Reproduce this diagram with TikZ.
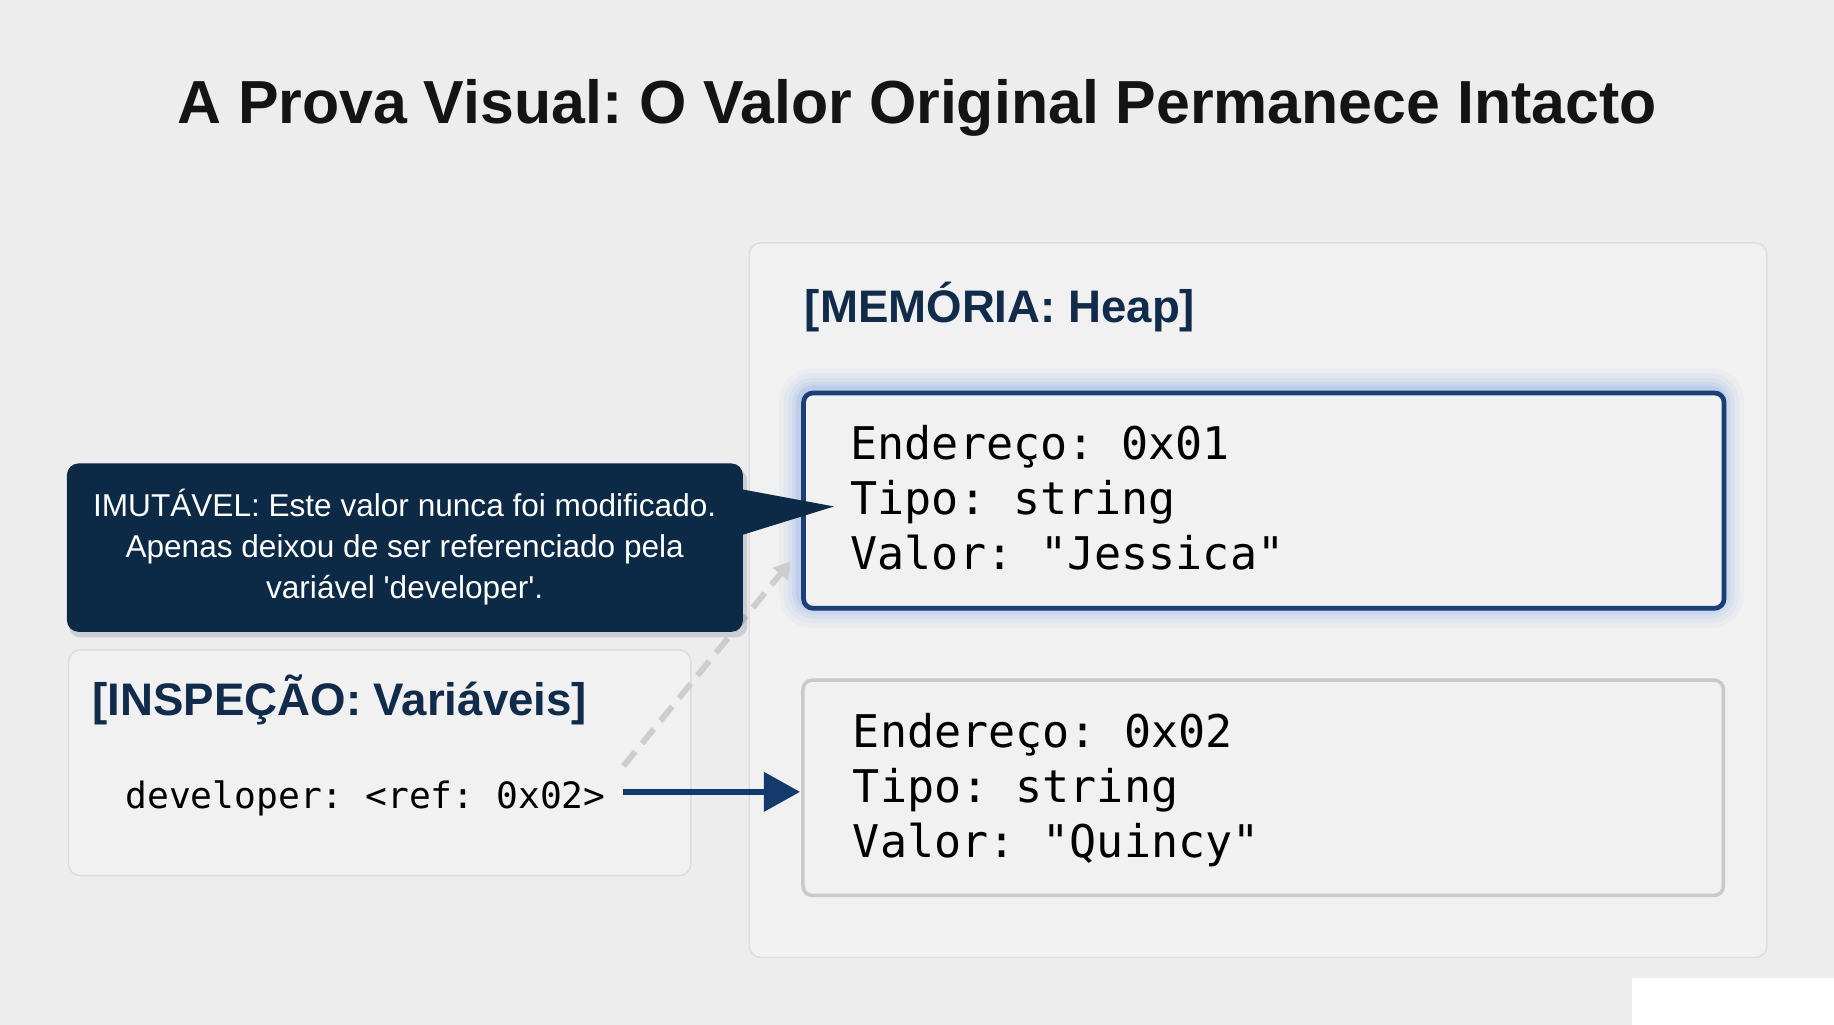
\documentclass[tikz,border=0pt]{standalone}
\usepackage{fontspec}
\setmainfont{Liberation Sans}
\newfontfamily\monof{DejaVu Sans Mono}
\usetikzlibrary{arrows.meta}
\definecolor{bgc}{HTML}{EDEDED}
\definecolor{panelf}{HTML}{F1F1F1}
\definecolor{panelb}{HTML}{DCDCDC}
\definecolor{titlec}{HTML}{141414}
\definecolor{navytxt}{HTML}{112B4A}
\definecolor{callc}{HTML}{0C2946}
\definecolor{box1b}{HTML}{1B3F74}
\definecolor{glowc}{HTML}{6F98E4}
\definecolor{box2b}{HTML}{C9C9C9}
\definecolor{arrc}{HTML}{143A6B}
\definecolor{dashc}{HTML}{CDCDCD}
\begin{document}
\frenchspacing
\begin{tikzpicture}[x=1pt,y=-1pt,
  panel/.style={draw=panelb, fill=panelf, rounded corners=10pt, line width=1.2pt, inner sep=0pt, anchor=north west},
  heapbox/.style={rounded corners=8pt, inner sep=0pt, anchor=north west, minimum width=787pt, minimum height=184pt},
  seclabel/.style={font=\bfseries\fontsize{39}{46}\selectfont, text=navytxt, anchor=base west, inner sep=0pt},
  codeline/.style={font=\monof\frenchspacing\fontsize{38.5}{47}\selectfont, text=black, anchor=base west, inner sep=0pt},
  navyarr/.style={draw=arrc, line width=5pt, -{Triangle[length=31pt,width=33pt]}},
  dasharr/.style={draw=dashc, line width=5pt, dash pattern=on 16pt off 9pt, -{Triangle[length=14pt,width=16pt]}}
]
\fill[bgc] (0,0) rectangle (1568,876);
\useasboundingbox (0,0) rectangle (1568,876);
\fill[white] (1395,836) rectangle (1568,876);

% title
\node[font=\bfseries\fontsize{52}{60}\selectfont, text=titlec, anchor=base, inner sep=0pt] (title) at (784,106) {A Prova Visual: O Valor Original Permanece Intacto};

% heap panel
\node[panel, minimum width=870pt, minimum height=611pt] (heap) at (640,207) {};
\node[seclabel] (heaplbl) at (688,276) {[MEMÓRIA: Heap]};

% box 1 with glow
\foreach \w/\o in {38/0.05,30/0.06,22/0.08,15/0.11,9/0.15} {
  \draw[glowc, line width=\w pt, opacity=\o, rounded corners=10pt] (685,334) rectangle (1472,518);
}
\node[heapbox, draw=box1b, line width=4pt, fill=panelf] (box1) at (685,334) {};
\node[codeline] (b1a) at (727,393) {Endereço: 0x01};
\node[codeline] (b1b) at (727,440) {Tipo: string};
\node[codeline] (b1c) at (727,487) {Valor: "Jessica"};

% box 2
\node[heapbox, draw=box2b, line width=3pt, fill=panelf] (box2) at (685,580) {};
\node[codeline] (b2a) at (729,639) {Endereço: 0x02};
\node[codeline] (b2b) at (729,686) {Tipo: string};
\node[codeline] (b2c) at (729,733) {Valor: "Quincy"};

% inspection panel
\node[panel, minimum width=532pt, minimum height=193pt] (insp) at (58,555) {};
\node[seclabel] (insplbl) at (79,612) {[INSPEÇÃO: Variáveis]};
\node[font=\monof\frenchspacing\fontsize{31}{38}\selectfont, text=black, anchor=base west, inner xsep=0pt, inner ysep=0pt] (devtxt) at (107,691) {developer: <ref: 0x02>};

% connectors
\coordinate (dashstart) at (533,655);
\coordinate (dashend) at (676,480);
\coordinate (arrstart) at (533,677);
\draw[dasharr] (dashstart) -- (dashend);
\draw[navyarr] (arrstart) -- ([xshift=-1pt]arrstart -| box2.west);

% callout
\fill[callc, opacity=0.15, rounded corners=10pt] (59,401) rectangle (639,545);
\node[fill=callc, rounded corners=10pt, minimum width=578pt, minimum height=144pt, inner sep=0pt, anchor=north west] (callout) at (57,396) {};
\coordinate (callouttip) at (713,433);
\fill[callc] ([xshift=-3pt,yshift=-22pt]callout.north east) -- (callouttip) -- ([xshift=-3pt,yshift=-62pt]callout.north east) -- cycle;
\node[font=\fontsize{27}{35}\selectfont, text=white, align=center, inner sep=0pt] (callouttxt) at (346,468) {IMUTÁVEL: Este valor nunca foi modificado.\\Apenas deixou de ser referenciado pela\\variável \textquotesingle developer\textquotesingle.};
\end{tikzpicture}
\end{document}
